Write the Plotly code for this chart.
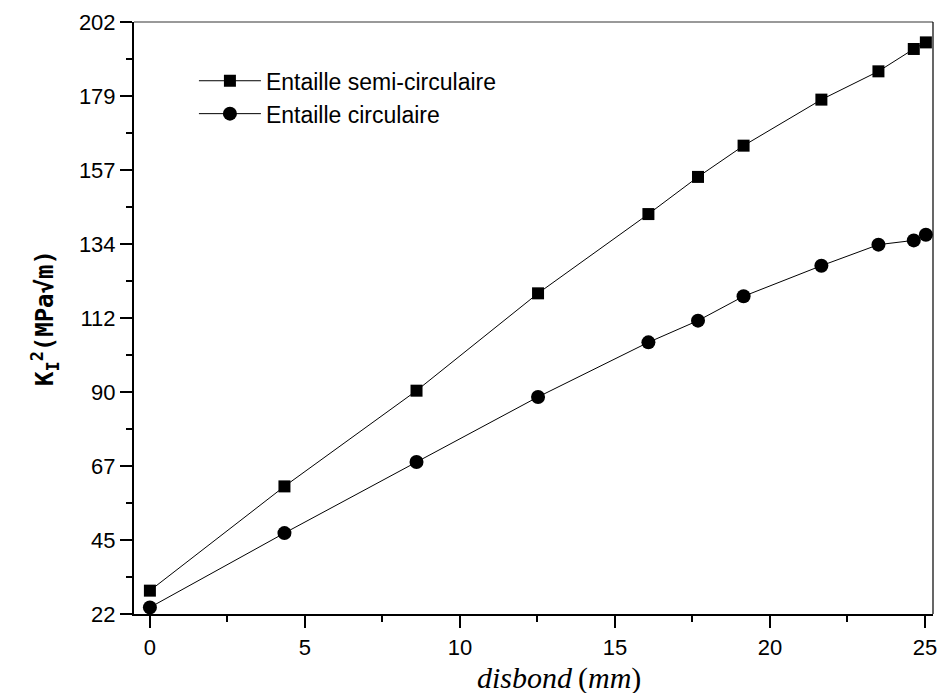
import plotly.graph_objects as go

# Disbond length (mm)
disbond = [0.0, 4.34, 8.6, 12.52, 16.08, 17.68, 19.15, 21.66, 23.50, 24.64, 25.03]

# Stress intensity factor, two notch geometries
k_semi = [29.1, 60.8, 89.9, 119.5, 143.6, 154.9, 164.4, 178.4, 187.0, 193.8, 195.8]
k_circ = [24.0, 46.6, 68.2, 88.0, 104.6, 111.2, 118.6, 127.9, 134.3, 135.6, 137.3]

series_names = ["Entaille semi-circulaire", "Entaille circulaire"]

# Y tick positions and their printed labels
y_tickvals = [22 + 22.5 * i for i in range(9)]
y_ticktext = ["22", "45", "67", "90", "112", "134", "157", "179", "202"]

x_range = [-0.513, 25.26]
y_range = [22, 202]

fig = go.Figure()
fig.add_trace(go.Scatter(
    x=disbond, y=k_semi, name=series_names[0], mode="lines+markers",
    line=dict(color="black", width=1),
    marker=dict(symbol="square", size=12, color="black"),
))
fig.add_trace(go.Scatter(
    x=disbond, y=k_circ, name=series_names[1], mode="lines+markers",
    line=dict(color="black", width=1),
    marker=dict(symbol="circle", size=14, color="black"),
))

tick_font = dict(family="Liberation Sans, Arial", size=22, color="black")

fig.update_layout(
    width=944, height=693,
    margin=dict(l=134, r=7, t=22, b=79),
    paper_bgcolor="white", plot_bgcolor="white",
    showlegend=True,
    legend=dict(
        x=0.075, y=0.937, xanchor="left", yanchor="top",
        font=dict(family="Liberation Sans, Arial", size=23, color="black"),
        bgcolor="rgba(0,0,0,0)", tracegroupgap=0, itemwidth=62,
    ),
    xaxis=dict(
        range=x_range, showgrid=False, zeroline=False,
        showline=True, linecolor="black", linewidth=2,
        ticks="outside", ticklen=12, tickwidth=2, tickcolor="black",
        tickmode="linear", tick0=0, dtick=5,
        tickfont=tick_font, ticklabelstandoff=1,
        minor=dict(ticks="outside", ticklen=6, tickwidth=2, tickcolor="black",
                   tick0=0, dtick=2.5, showgrid=False),
    ),
    yaxis=dict(
        range=y_range, showgrid=False, zeroline=False,
        showline=True, linecolor="black", linewidth=2,
        ticks="outside", ticklen=12, tickwidth=2, tickcolor="black",
        tickmode="array", tickvals=y_tickvals, ticktext=y_ticktext,
        tickfont=tick_font,
        minor=dict(ticks="outside", ticklen=6, tickwidth=2, tickcolor="black",
                   tick0=22, dtick=11.25, showgrid=False),
        title=dict(
            text="<b>K<sub>I</sub><sup>2</sup>(MPa√m)</b>",
            font=dict(family="DejaVu Sans Mono, monospace", size=24, color="black"),
            standoff=18,
        ),
    ),
)

# X-axis title, set slightly right of centre
fig.add_annotation(
    text="<i>disbond</i>\u2009(<i>mm</i>)", showarrow=False,
    xref="paper", yref="paper", x=0.532, y=-0.108,
    xanchor="center", yanchor="middle",
    font=dict(family="Liberation Serif, Times New Roman", size=30, color="black"),
)

# Thin frame lines on the top and right sides of the plotting area
fig.add_shape(type="line", xref="paper", yref="paper", x0=0, x1=1, y0=1, y1=1,
              line=dict(color="#777777", width=1.5))
fig.add_shape(type="line", xref="paper", yref="paper", x0=1, x1=1, y0=0, y1=1,
              line=dict(color="black", width=1.2))

fig.write_html("out.html")
